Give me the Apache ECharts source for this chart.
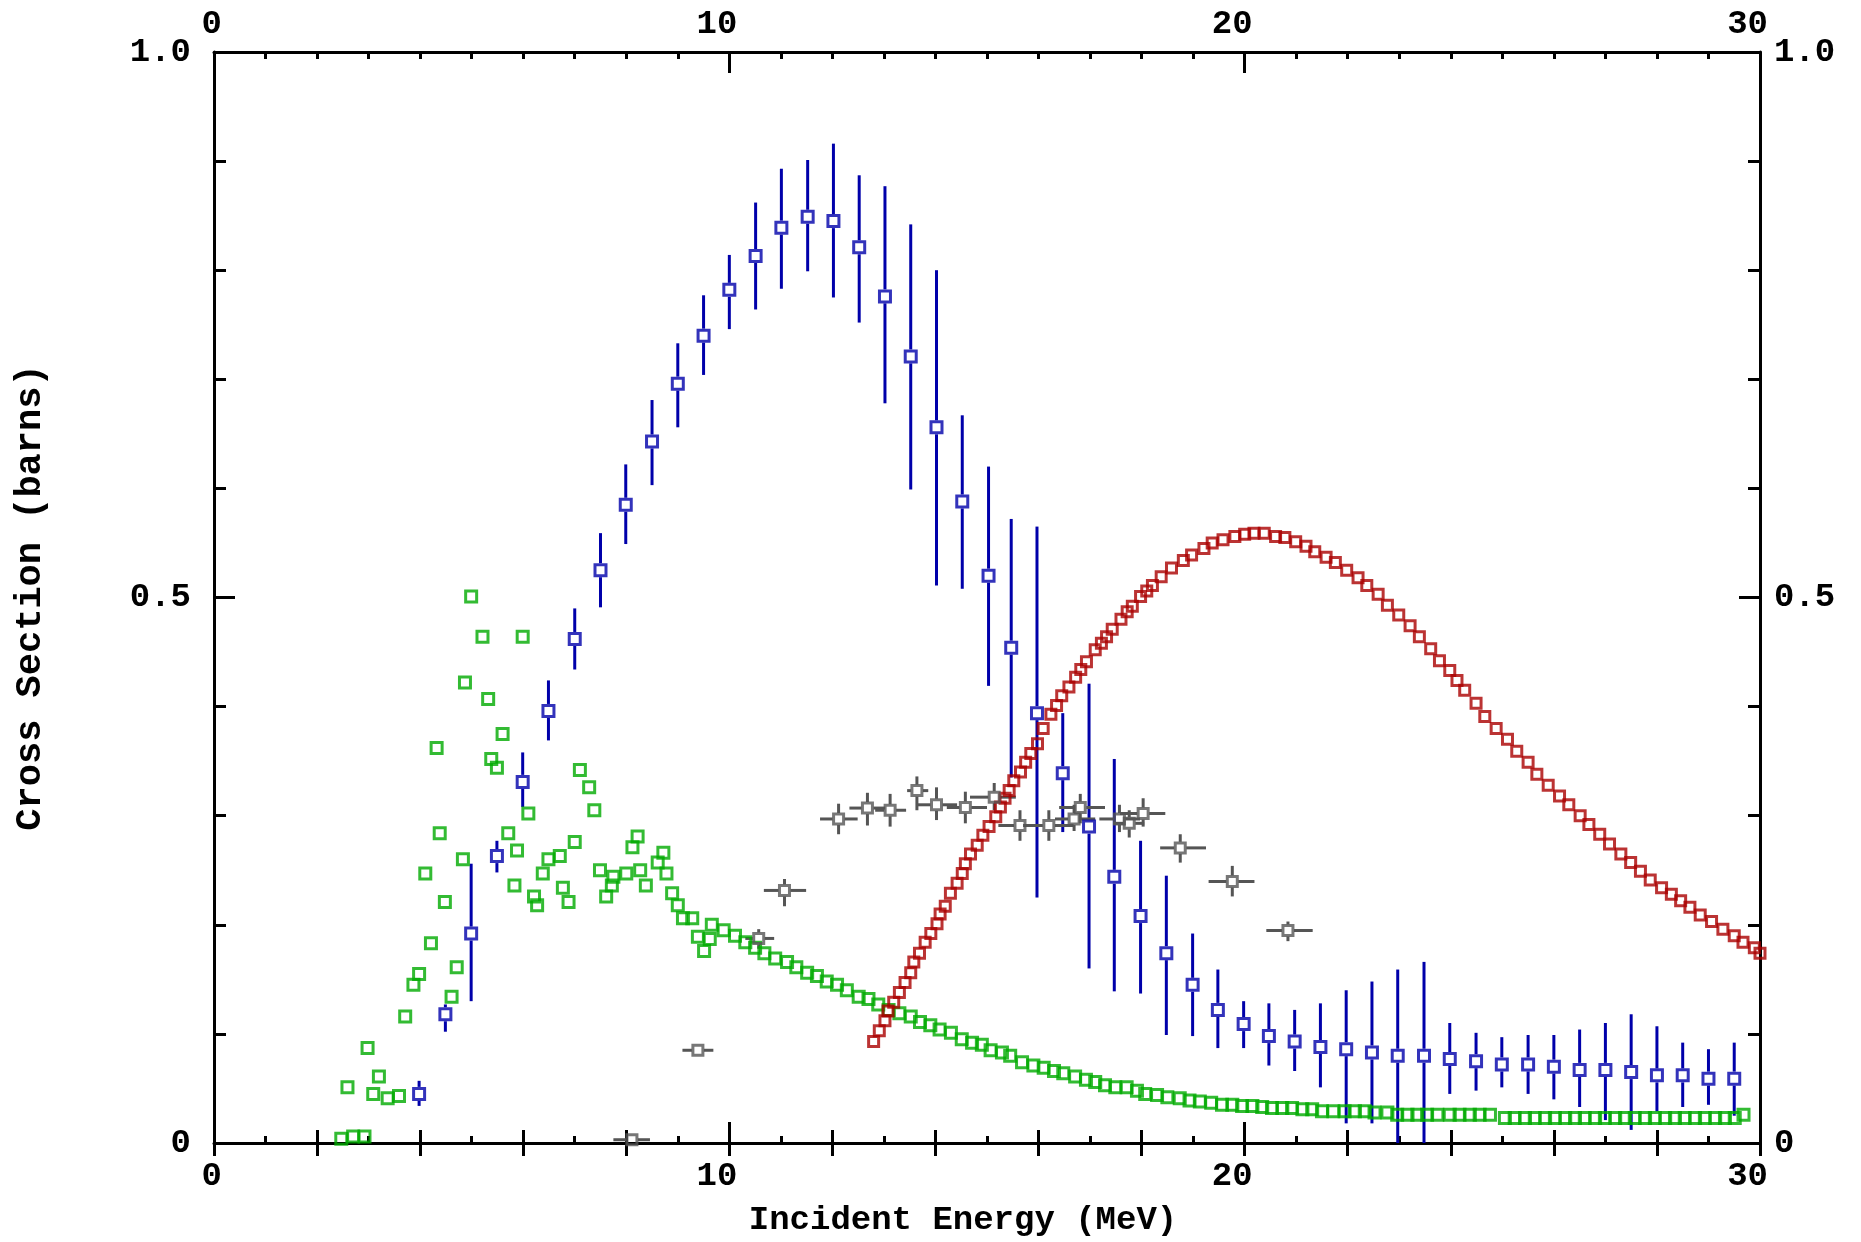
<!DOCTYPE html>
<html>
<head>
<meta charset="utf-8">
<title>Cross Section</title>
<style>
html,body{margin:0;padding:0;background:#fff;}
#main{width:1861px;height:1242px;}
</style>
</head>
<body>
<div id="main"></div>
<script src="https://cdn.jsdelivr.net/npm/echarts@6.0.0/dist/echarts.min.js"></script>
<script>
// blue set: energy, value, lower / upper error
var blueE  = [3.98,4.49,4.99,5.49,5.99,6.49,7.0,7.5,7.99,8.5,9.0,9.5,10.0,10.51,11.01,11.52,12.02,12.52,13.02,13.52,14.02,14.52,15.03,15.47,15.97,16.47,16.98,17.47,17.98,18.48,18.99,19.48,19.98,20.47,20.97,21.47,21.97,22.47,22.97,23.48,23.98,24.49,24.99,25.5,26.0,26.5,27.0,27.5,28.0,28.5,29.0,29.5];
var blueV  = [0.045,0.118,0.192,0.263,0.331,0.396,0.462,0.525,0.585,0.643,0.696,0.740,0.782,0.813,0.839,0.849,0.845,0.821,0.776,0.721,0.656,0.588,0.520,0.454,0.394,0.339,0.290,0.244,0.208,0.174,0.145,0.122,0.109,0.098,0.093,0.088,0.086,0.083,0.080,0.080,0.077,0.075,0.072,0.072,0.070,0.067,0.067,0.065,0.062,0.062,0.059,0.059];
var blueLo = [0.034,0.102,0.130,0.248,0.308,0.369,0.434,0.491,0.549,0.603,0.656,0.704,0.746,0.764,0.783,0.799,0.775,0.752,0.678,0.599,0.511,0.508,0.419,0.335,0.225,0.285,0.160,0.139,0.137,0.099,0.098,0.087,0.087,0.071,0.066,0.051,0.018,0.018,0,0,0.045,0.048,0.051,0.045,0.040,0.033,0.021,0.012,0.029,0.033,0.035,0.025];
var blueHi = [0.057,0.127,0.256,0.277,0.358,0.424,0.490,0.559,0.622,0.681,0.733,0.777,0.814,0.862,0.893,0.901,0.916,0.887,0.877,0.842,0.800,0.667,0.620,0.572,0.565,0.394,0.421,0.352,0.277,0.245,0.192,0.159,0.130,0.128,0.122,0.128,0.140,0.148,0.159,0.166,0.110,0.101,0.097,0.099,0.099,0.104,0.110,0.118,0.107,0.092,0.086,0.092];

// grey set: energy, value, energy range, value range
var grayE   = [8.11,9.39,10.57,11.07,12.12,12.68,13.12,13.64,14.02,14.58,15.14,15.64,16.20,16.69,16.81,17.57,17.76,18.03,18.75,19.76,20.84];
var grayV   = [0.003,0.085,0.1875,0.2315,0.297,0.307,0.305,0.323,0.310,0.3075,0.317,0.291,0.291,0.297,0.3075,0.297,0.293,0.302,0.2705,0.2397,0.1948];
var grayELo = [7.75,9.09,10.31,10.67,11.76,12.33,12.83,13.45,13.64,14.22,14.67,15.22,15.70,16.32,16.40,17.18,17.45,17.58,18.36,19.30,20.42];
var grayEHi = [8.46,9.69,10.87,11.49,12.49,13.02,13.43,13.86,14.42,15.00,15.56,16.04,16.68,17.10,17.29,17.97,18.05,18.46,19.25,20.19,21.32];
var grayVLo = [0.000,0.081,0.178,0.217,0.283,0.291,0.290,0.305,0.296,0.293,0.305,0.277,0.277,0.286,0.293,0.285,0.280,0.290,0.257,0.226,0.185];
var grayVHi = [0.006,0.089,0.196,0.242,0.311,0.321,0.320,0.336,0.326,0.322,0.330,0.305,0.305,0.310,0.320,0.310,0.305,0.316,0.283,0.254,0.203];

// red evaluated curve
var redE = [12.80,12.91,13.02,13.08,13.19,13.30,13.41,13.52,13.58,13.69,
  13.80,13.91,14.03,14.09,14.19,14.29,14.42,14.52,14.58,14.68,
  14.81,14.92,15.04,15.17,15.26,15.35,15.43,15.52,15.65,15.75,
  15.85,15.98,16.09,16.24,16.35,16.45,16.59,16.72,16.82,16.93,
  17.10,17.22,17.32,17.43,17.60,17.72,17.82,17.98,18.10,18.21,
  18.38,18.58,18.81,18.97,19.21,19.37,19.58,19.81,20.00,20.18,
  20.38,20.60,20.78,20.99,21.19,21.36,21.58,21.76,21.98,22.20,
  22.37,22.59,22.77,22.99,23.21,23.39,23.61,23.78,23.98,24.12,
  24.27,24.49,24.66,24.88,25.10,25.28,25.50,25.67,25.89,26.11,
  26.29,26.51,26.68,26.89,27.08,27.30,27.49,27.68,27.87,28.09,
  28.28,28.46,28.64,28.84,29.06,29.28,29.50,29.67,29.89,30.00];
var redV = [0.093,0.103,0.112,0.121,0.129,0.138,0.147,0.156,0.166,0.174,
  0.184,0.192,0.201,0.210,0.217,0.229,0.238,0.247,0.256,0.265,
  0.273,0.282,0.290,0.299,0.308,0.316,0.323,0.332,0.340,0.349,
  0.357,0.366,0.380,0.393,0.401,0.410,0.418,0.427,0.434,0.441,
  0.452,0.458,0.464,0.471,0.480,0.487,0.492,0.501,0.506,0.511,
  0.519,0.527,0.534,0.539,0.545,0.550,0.553,0.556,0.558,0.559,
  0.559,0.556,0.555,0.551,0.547,0.542,0.537,0.532,0.525,0.518,
  0.511,0.503,0.493,0.484,0.474,0.464,0.453,0.442,0.433,0.424,
  0.415,0.403,0.391,0.380,0.370,0.359,0.349,0.338,0.328,0.318,
  0.310,0.300,0.292,0.283,0.274,0.265,0.257,0.249,0.241,0.234,
  0.228,0.222,0.216,0.209,0.203,0.196,0.190,0.184,0.179,0.174];

// green set
var greenE = [2.47,2.59,2.70,2.92,2.98,3.09,3.20,3.37,3.59,3.71,
  3.87,3.98,4.10,4.21,4.32,4.38,4.48,4.61,4.71,4.83,
  4.87,4.99,5.21,5.32,5.38,5.49,5.60,5.71,5.83,5.88,
  5.99,6.10,6.21,6.27,6.38,6.49,6.71,6.77,6.88,7.00,
  7.10,7.28,7.38,7.49,7.61,7.72,7.75,8.00,8.12,8.22,
  8.27,8.38,8.61,8.72,8.78,8.89,9.00,9.10,9.28,9.39,
  9.51,9.62,9.66,9.89,10.11,10.31,10.50,10.68,10.89,11.12,
  11.30,11.51,11.70,11.89,12.09,12.28,12.51,12.70,12.89,13.09,
  13.30,13.52,13.70,13.90,14.08,14.30,14.51,14.71,14.90,15.07,
  15.29,15.45,15.68,15.90,16.10,16.30,16.48,16.71,16.92,17.10,
  17.29,17.49,17.71,17.91,18.07,18.30,18.50,18.74,18.93,19.13,
  19.35,19.56,19.76,19.95,20.15,20.34,20.53,20.73,20.92,21.12,
  21.31,21.50,21.72,21.94,22.14,22.33,22.52,22.77,22.96,23.16,
  23.35,23.54,23.74,23.98,24.17,24.37,24.56,24.76,25.05,25.24,
  25.44,25.63,25.83,26.02,26.22,26.41,26.60,26.80,26.99,27.19,
  27.38,27.57,27.77,27.96,28.16,28.35,28.54,28.74,28.93,29.13,
  29.32,29.51,29.68];
var greenV = [0.004,0.051,0.006,0.006,0.087,0.045,0.061,0.041,0.043,0.116,
  0.145,0.155,0.247,0.183,0.362,0.284,0.221,0.134,0.161,0.260,
  0.422,0.501,0.464,0.407,0.352,0.344,0.375,0.284,0.236,0.268,
  0.464,0.302,0.226,0.218,0.247,0.260,0.263,0.234,0.221,0.276,
  0.342,0.326,0.305,0.250,0.226,0.236,0.244,0.247,0.271,0.281,
  0.250,0.236,0.257,0.266,0.247,0.229,0.218,0.206,0.206,0.189,
  0.176,0.187,0.200,0.195,0.190,0.184,0.179,0.174,0.169,0.166,
  0.161,0.156,0.153,0.148,0.145,0.140,0.134,0.132,0.127,0.122,
  0.119,0.116,0.111,0.108,0.104,0.101,0.095,0.092,0.090,0.085,
  0.083,0.080,0.074,0.071,0.069,0.066,0.064,0.061,0.058,0.056,
  0.053,0.051,0.051,0.048,0.045,0.044,0.042,0.041,0.039,0.038,
  0.037,0.035,0.035,0.034,0.034,0.033,0.032,0.032,0.032,0.031,
  0.031,0.029,0.029,0.029,0.029,0.029,0.028,0.028,0.026,0.026,
  0.026,0.026,0.026,0.026,0.026,0.026,0.026,0.026,0.023,0.023,
  0.023,0.023,0.023,0.023,0.023,0.023,0.023,0.023,0.023,0.023,
  0.023,0.023,0.023,0.023,0.023,0.023,0.023,0.023,0.023,0.023,
  0.023,0.023,0.026];

var xTicks = [0, 10, 20, 30];
var yTicks = [0, 0.5, 1.0];

var BLUE = '#0000aa', GREEN = '#00aa00', RED = '#aa0000', GRAY = '#555555';
var FONT = 'Liberation Mono';
var HALF = 7; // half size of a square marker, px

var myChart = echarts.init(document.getElementById('main'));

function seg(x1, y1, x2, y2, color) {
  return { type: 'line', shape: { x1: x1, y1: y1, x2: x2, y2: y2 },
           style: { stroke: color, lineWidth: 3 } };
}

// vertical error bar, stopping at the square
function blueBar(params, api) {
  var e = api.value(0);
  var c = api.coord([e, api.value(1)]);
  var lo = api.coord([e, api.value(2)]);
  var hi = api.coord([e, api.value(3)]);
  var kids = [];
  if (hi[1] < c[1] - HALF) kids.push(seg(c[0], hi[1], c[0], c[1] - HALF, BLUE));
  if (lo[1] > c[1] + HALF) kids.push(seg(c[0], c[1] + HALF, c[0], lo[1], BLUE));
  return { type: 'group', children: kids };
}

// cross error bars for the grey set
function grayBar(params, api) {
  var e = api.value(0), v = api.value(1);
  var c = api.coord([e, v]);
  var l = api.coord([api.value(2), v]);
  var r = api.coord([api.value(3), v]);
  var lo = api.coord([e, api.value(4)]);
  var hi = api.coord([e, api.value(5)]);
  var h = HALF - 1;
  var kids = [];
  if (l[0] < c[0] - h) kids.push(seg(l[0], c[1], c[0] - h, c[1], GRAY));
  if (r[0] > c[0] + h) kids.push(seg(c[0] + h, c[1], r[0], c[1], GRAY));
  if (hi[1] < c[1] - h) kids.push(seg(c[0], hi[1], c[0], c[1] - h, GRAY));
  if (lo[1] > c[1] + h) kids.push(seg(c[0], c[1] + h, c[0], Math.min(lo[1], params.coordSys.y + params.coordSys.height), GRAY));
  return { type: 'group', children: kids };
}

function pairs(xs, ys) {
  return xs.map(function (x, i) { return [x, ys[i]]; });
}

function squares(name, data, color, size) {
  return {
    name: name, type: 'scatter', data: data,
    symbol: 'rect', symbolSize: size,
    itemStyle: { color: 'rgba(0,0,0,0)', borderColor: color, borderWidth: 3 },
    emphasis: { disabled: true }, silent: true, clip: false, z: 3
  };
}

var labelStyle = { fontFamily: FONT, fontWeight: 'bold', fontSize: 34, color: '#000' };

function xAx(pos, withLabels) {
  return {
    type: 'value', position: pos, min: 0, max: 30, interval: 10,
    axisLine: { show: true, onZero: false, lineStyle: { color: '#000', width: 3 } },
    axisTick: { show: true, inside: true, length: 21, lineStyle: { color: '#000', width: 3 } },
    minorTick: { show: true, splitNumber: 10, length: 7, lineStyle: { color: '#000', width: 3 } },
    splitLine: { show: false }, minorSplitLine: { show: false },
    axisLabel: Object.assign({
      show: withLabels, margin: pos === 'top' ? 11 : 16, align: 'right',
      padding: [0, -8, 0, 0], showMinLabel: true, showMaxLabel: true,
      formatter: function (v) { return xTicks.indexOf(v) >= 0 ? String(v) : ''; }
    }, labelStyle)
  };
}

// medium ticks at every 2 MeV
function xMid(pos) {
  return {
    type: 'value', position: pos, min: 0, max: 30, interval: 2,
    axisLine: { show: false },
    axisTick: { show: true, inside: true, length: 13, lineStyle: { color: '#000', width: 3 } },
    axisLabel: { show: false }, splitLine: { show: false }
  };
}

function yAx(pos) {
  return {
    type: 'value', position: pos, min: 0, max: 1, interval: 0.5,
    axisLine: { show: true, onZero: false, lineStyle: { color: '#000', width: 3 } },
    axisTick: { show: true, inside: true, length: 21, lineStyle: { color: '#000', width: 3 } },
    minorTick: { show: true, splitNumber: 5, length: 12, lineStyle: { color: '#000', width: 3 } },
    splitLine: { show: false }, minorSplitLine: { show: false },
    axisLabel: Object.assign({
      margin: pos === 'left' ? 23 : 14, showMinLabel: true, showMaxLabel: true,
      formatter: function (v) {
        for (var i = 0; i < yTicks.length; i++) {
          if (Math.abs(v - yTicks[i]) < 1e-9) return v === 0 ? '0' : v.toFixed(1);
        }
        return '';
      }
    }, labelStyle)
  };
}

var xBottom = xAx('bottom', true);
xBottom.name = 'Incident Energy (MeV)';
xBottom.nameLocation = 'middle';
xBottom.nameGap = 60;
xBottom.nameTextStyle = { fontFamily: FONT, fontWeight: 'bold', fontSize: 34, color: '#000', padding: [0, 48, 0, 0] };

var yLeft = yAx('left');
yLeft.name = 'Cross Section (barns)';
yLeft.nameLocation = 'middle';
yLeft.nameRotate = 90;
yLeft.nameGap = 165;
yLeft.nameTextStyle = { fontFamily: FONT, fontWeight: 'bold', fontSize: 37, color: '#000' };

option = {
  backgroundColor: '#ffffff',
  animation: false,
  grid: { left: 214, right: 101, top: 52, bottom: 93 },
  xAxis: [xBottom, xAx('top', true), xMid('bottom'), xMid('top')],
  yAxis: [yLeft, yAx('right')],
  series: [
    {
      type: 'custom', name: 'blue-err', renderItem: blueBar, silent: true, z: 2,
      encode: { x: 0, y: 1 },
      data: blueE.map(function (e, i) { return [e, blueV[i], blueLo[i], blueHi[i]]; })
    },
    {
      type: 'custom', name: 'grey-err', renderItem: grayBar, silent: true, z: 2,
      encode: { x: 0, y: 1 },
      data: grayE.map(function (e, i) { return [e, grayV[i], grayELo[i], grayEHi[i], grayVLo[i], grayVHi[i]]; })
    },
    squares('green', pairs(greenE, greenV), GREEN, 11),
    squares('red', pairs(redE, redV), RED, 10),
    squares('grey', pairs(grayE, grayV), GRAY, 10),
    squares('blue', pairs(blueE, blueV), BLUE, 11)
  ]
};
myChart.setOption(option);
</script>
</body>
</html>
